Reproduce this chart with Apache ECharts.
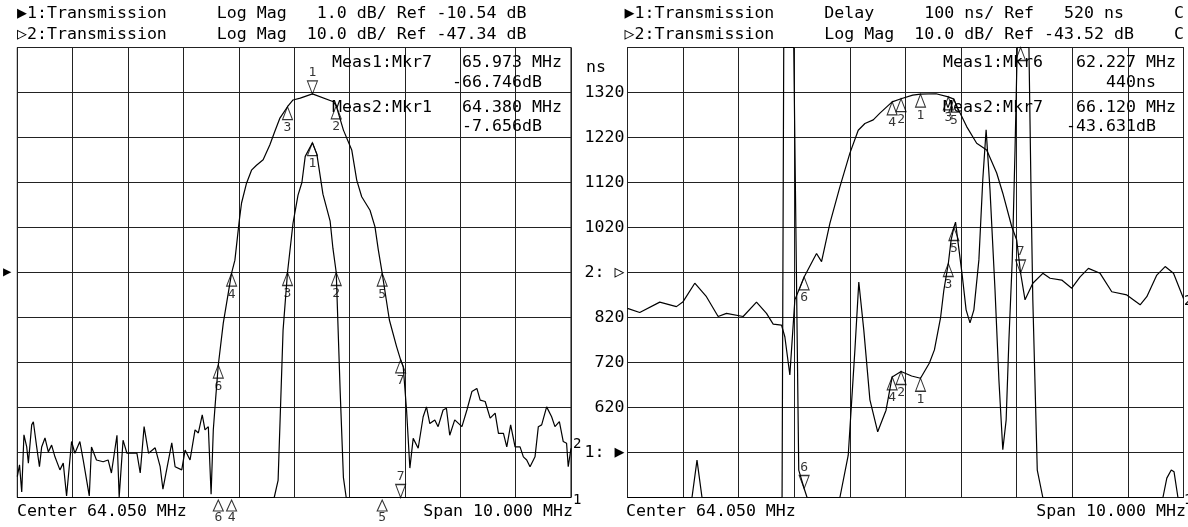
<!DOCTYPE html>
<html><head><meta charset="utf-8">
<script src="https://cdn.jsdelivr.net/npm/echarts/dist/echarts.min.js"></script>
<style>html,body{margin:0;padding:0;background:#fff;}#c{width:1188px;height:527px;}</style>
</head><body><div id="c"></div>
<script>
// ---------------- DATA ----------------
// Left screen: x = frequency (MHz)
const leftTrace1 = [[59.05,-15.54],[63.69,-15.54],[63.76,-15.16],[63.85,-11.82],[63.93,-10.54],[64.03,-9.44],[64.12,-8.82],[64.19,-8.54],[64.25,-7.96],[64.38,-7.656],[64.46,-7.91],[64.57,-8.80],[64.70,-9.40],[64.75,-10.00],[64.81,-10.54],[64.88,-13.14],[64.94,-15.10],[64.99,-15.54],[69.05,-15.54]];
const leftTrace2 = [[59.05,-92.7],[59.09,-90.1],[59.13,-96.1],[59.17,-83.4],[59.22,-86.1],[59.25,-89.7],[59.31,-81.2],[59.34,-80.5],[59.40,-86.1],[59.45,-90.5],[59.49,-86.1],[59.55,-84.1],[59.61,-87.2],[59.67,-85.7],[59.73,-88.3],[59.82,-91.2],[59.88,-89.7],[59.94,-97.0],[60.03,-84.9],[60.09,-87.5],[60.18,-84.9],[60.24,-89.0],[60.35,-97.0],[60.39,-86.1],[60.48,-89.0],[60.60,-89.4],[60.69,-89.0],[60.75,-91.9],[60.85,-83.5],[60.89,-97.2],[60.96,-84.6],[61.03,-87.5],[61.12,-87.5],[61.21,-87.5],[61.27,-91.9],[61.34,-81.6],[61.42,-87.5],[61.54,-86.3],[61.63,-90.5],[61.68,-95.5],[61.84,-85.2],[61.90,-90.5],[62.02,-91.2],[62.08,-86.8],[62.17,-89.0],[62.26,-82.3],[62.32,-83.0],[62.39,-79.0],[62.44,-82.3],[62.50,-81.6],[62.55,-96.6],[62.59,-82.3],[62.63,-75.7],[62.68,-67.9],[62.77,-58.6],[62.92,-47.5],[62.98,-44.6],[63.06,-35.7],[63.10,-31.9],[63.19,-27.5],[63.28,-24.6],[63.37,-23.5],[63.49,-22.3],[63.61,-19.0],[63.70,-16.0],[63.79,-13.1],[63.93,-10.5],[64.03,-9.0],[64.16,-8.6],[64.38,-7.656],[64.76,-9.4],[64.81,-10.3],[64.94,-15.7],[65.09,-20.1],[65.18,-26.8],[65.27,-30.5],[65.42,-33.5],[65.51,-37.2],[65.57,-42.3],[65.64,-47.5],[65.77,-57.9],[65.90,-63.8],[65.973,-66.746],[66.02,-68.3],[66.08,-77.9],[66.14,-90.8],[66.20,-84.2],[66.29,-86.4],[66.38,-79.4],[66.44,-77.2],[66.50,-80.9],[66.59,-80.1],[66.65,-81.6],[66.74,-77.9],[66.80,-77.5],[66.86,-83.5],[66.95,-80.1],[67.08,-81.6],[67.17,-77.9],[67.26,-73.8],[67.35,-73.1],[67.41,-75.7],[67.50,-76.0],[67.59,-79.7],[67.68,-78.6],[67.74,-83.1],[67.83,-83.1],[67.89,-86.1],[67.96,-81.2],[68.04,-86.1],[68.13,-86.1],[68.19,-88.3],[68.25,-89.0],[68.31,-90.5],[68.40,-88.3],[68.46,-81.6],[68.52,-81.2],[68.61,-77.2],[68.70,-79.4],[68.76,-81.6],[68.84,-80.5],[68.91,-84.9],[68.97,-85.3],[69.00,-90.5],[69.05,-86.4]];
// Right screen
const rightDelay = [[59.05,420],[60.21,420],[60.30,503],[60.39,420],[61.83,420],[61.86,1420],[62.04,1420],[62.13,481],[62.227,440],[62.28,420],[62.87,420],[63.02,514],[63.14,748],[63.21,899],[63.30,792],[63.41,637],[63.55,566],[63.70,614],[63.81,688],[63.97,700],[64.16,690],[64.32,685],[64.48,719],[64.57,748],[64.68,819],[64.74,881],[64.82,940],[64.87,992],[64.92,1020],[64.95,1032],[64.99,992],[65.07,914],[65.14,837],[65.21,808],[65.28,837],[65.37,948],[65.44,1126],[65.50,1237],[65.57,1103],[65.66,881],[65.73,681],[65.80,526],[65.86,592],[65.91,770],[65.97,948],[66.02,1192],[66.06,1420],[66.27,1420],[66.31,1081],[66.34,859],[66.42,481],[66.52,420],[68.68,420],[68.75,463],[68.83,481],[68.88,477],[68.95,420],[69.05,420]];
const rightLogMag = [[59.05,-51.5],[59.27,-52.4],[59.63,-50.1],[59.93,-51.1],[60.05,-50.0],[60.26,-45.9],[60.47,-48.9],[60.68,-53.3],[60.83,-52.6],[61.13,-53.3],[61.37,-50.1],[61.55,-52.6],[61.67,-55.0],[61.82,-55.2],[61.88,-57.8],[61.97,-66.3],[62.06,-49.6],[62.227,-44.5],[62.39,-40.7],[62.45,-39.3],[62.54,-41.1],[62.69,-32.6],[62.87,-24.5],[63.05,-17.0],[63.20,-11.9],[63.32,-10.4],[63.47,-9.6],[63.59,-8.1],[63.81,-5.6],[63.97,-4.9],[64.18,-4.1],[64.32,-3.9],[64.60,-3.8],[64.82,-4.5],[64.92,-5.0],[64.99,-7.0],[65.15,-11.1],[65.33,-14.8],[65.51,-16.3],[65.69,-21.4],[65.80,-25.9],[65.96,-33.3],[66.05,-36.3],[66.12,-43.631],[66.20,-49.6],[66.34,-45.9],[66.52,-43.7],[66.65,-44.8],[66.86,-45.2],[67.04,-47.0],[67.19,-44.5],[67.34,-42.6],[67.55,-43.7],[67.76,-47.8],[68.03,-48.5],[68.27,-50.7],[68.39,-48.9],[68.57,-44.1],[68.72,-42.2],[68.87,-43.7],[69.05,-49.3]];

// markers [freq, value, label]
const leftT1Markers = [[64.38,-7.656,'1'],[64.81,-10.54,'2'],[63.93,-10.54,'3']];
const leftT1Below = [[62.68,-15.54,'6'],[62.92,-15.54,'4'],[65.64,-15.54,'5']];
const leftT1Active = [[65.973,-15.54,'7']];
const leftT2Markers = [[64.81,-10.3,'2'],[63.93,-10.5,'3'],[62.92,-47.5,'4'],[65.64,-47.5,'5'],[62.68,-67.9,'6'],[65.973,-66.746,'7']];
const leftT2Active = [[64.38,-7.656,'1']];
const rightT1Markers = [[63.81,688,'4'],[63.97,700,'2'],[64.32,685,'1'],[64.82,940,'3'],[64.92,1020,'5'],[66.12,1420,'']];
const rightT1Active = [[62.227,440,'6']];
const rightT2Markers = [[63.81,-5.6,'4'],[63.97,-4.9,'2'],[64.32,-3.9,'1'],[64.82,-4.5,'3'],[64.92,-5.0,'5'],[62.227,-44.5,'6']];
const rightT2Active = [[66.12,-43.631,'7']];

// axis settings
const freqStart = 59.05, freqStop = 69.05, freqDiv = 1;
const leftRef1 = -10.54, leftScale1 = 1.0;
const leftRef2 = -47.34, leftScale2 = 10.0;
const rightRef1 = 520, rightScale1 = 100;
const rightRef2 = -43.52, rightScale2 = 10.0;

// texts
const headerLeft = ['1:Transmission     Log Mag   1.0 dB/ Ref -10.54 dB', '2:Transmission     Log Mag  10.0 dB/ Ref -47.34 dB'];
const headerRight = ['1:Transmission     Delay     100 ns/ Ref   520 ns     C', '2:Transmission     Log Mag  10.0 dB/ Ref -43.52 dB    C'];
const readLeft = [['Meas1:Mkr7','65.973 MHz','-66.746dB'],['Meas2:Mkr1','64.380 MHz','-7.656dB']];
const readRight = [['Meas1:Mkr6','62.227 MHz','440ns'],['Meas2:Mkr7','66.120 MHz','-43.631dB']];
const footer = ['Center 64.050 MHz','Span 10.000 MHz'];

// ---------------- CHART ----------------
const FONT = '"DejaVu Sans Mono", "Liberation Mono", monospace';
const FS = 16.6;
const chart = echarts.init(document.getElementById('c'), null, {renderer:'canvas'});

function lineSeries(data, xi, yi){
  return {type:'line', xAxisIndex:xi, yAxisIndex:yi, data:data, showSymbol:false, symbol:'none',
    lineStyle:{color:'#000', width:1.2}, animation:false, silent:true, z:3};
}
const UP = 'path://M5,0L10,13L0,13Z';
const DOWN = 'path://M0,0L10,0L5,13Z';
function markSeries(pts, xi, yi, dir, extraOffset, h){
  const off = extraOffset || 0;
  const hh = h || 13;
  return {type:'scatter', xAxisIndex:xi, yAxisIndex:yi, clip:false, animation:false, silent:true, z:5,
    data: pts.map(p=>({value:[p[0],p[1]], name:p[2]})),
    symbol: dir==='up'?UP:DOWN, symbolSize:[10,hh], symbolOffset:[0, dir==='up'? hh/2+off : -hh/2-off],
    itemStyle:{color:'rgba(255,255,255,0)', borderColor:'#000', borderWidth:1.1},
    label:{show:true, formatter:p=>p.name, position: dir==='up'?'bottom':'top', distance:off?0:1,
      fontFamily:FONT, fontSize:13, color:'#000'}};
}
function axisX(gi){
  return {gridIndex:gi, type:'value', min:freqStart, max:freqStop, interval:freqDiv,
    axisLabel:{show:false}, axisTick:{show:false}, axisLine:{show:false},
    splitLine:{show:true, lineStyle:{color:'#222', width:1}}};
}
function axisY(gi, ref, scale, showSplit, labels){
  return {gridIndex:gi, type:'value', min:ref-5*scale, max:ref+5*scale, interval:scale,
    axisTick:{show:false}, axisLine:{show:false},
    axisLabel: labels ? {show:true, margin:3, fontFamily:FONT, fontSize:FS, color:'#000', formatter:labels} : {show:false},
    splitLine:{show:showSplit, lineStyle:{color:'#222', width:1}}};
}
const rightLabels = v => {
  const r = Math.round(v);
  if (r === rightRef1 + 4*rightScale1) return '2: \u25B7';
  if (r === rightRef1) return '1: \u25B6';
  if (r === rightRef1 - rightScale1 || r === rightRef1 + 9*rightScale1) return '';
  return String(r);
};

function txt(text, x, y, align, size){
  return {type:'text', x:x, y:y, z:100, silent:true,
    style:{text:text, font:(size||FS)+'px '+FONT, fill:'#000', align:align||'left', verticalAlign:'middle'}};
}
const graphics = [
  txt('\u25B6', 17, 14), txt(headerLeft[0], 27, 14),
  txt('\u25B7', 17, 35), txt(headerLeft[1], 27, 35),
  txt('\u25B6', 624.5, 14), txt(headerRight[0], 634.5, 14),
  txt('\u25B7', 624.5, 35), txt(headerRight[1], 634.5, 35),
  txt(readLeft[0][0], 332, 63), txt(readLeft[0][1], 462, 63), txt(readLeft[0][2], 452, 83),
  txt(readLeft[1][0], 332, 108), txt(readLeft[1][1], 462, 108), txt(readLeft[1][2], 462, 127),
  txt(readRight[0][0], 943, 63), txt(readRight[0][1], 1076, 63), txt(readRight[0][2], 1106, 83),
  txt(readRight[1][0], 943, 108), txt(readRight[1][1], 1076, 108), txt(readRight[1][2], 1066, 127),
  txt(footer[0], 17, 512), txt(footer[1], 573, 512, 'right'),
  txt(footer[0], 626, 512), txt(footer[1], 1186, 512, 'right'),
  txt('\u25B6', 3, 272, 'left', 14),
  txt('ns', 586, 68),
  txt('2', 573, 444, 'left', 14), txt('1', 573, 500, 'left', 14),
  txt('2', 1184, 301, 'left', 14), txt('1', 1184, 500, 'left', 14)
];

const option = {
  backgroundColor:'#fff',
  animation:false,
  grid:[
    {left:17.3, top:47.5, width:553.7, height:450, show:true, borderColor:'#000', borderWidth:1, containLabel:false, outerBoundsMode:'none'},
    {left:627.5, top:47.5, width:556, height:450, show:true, borderColor:'#000', borderWidth:1, containLabel:false, outerBoundsMode:'none'}
  ],
  xAxis:[axisX(0), axisX(1)],
  yAxis:[
    axisY(0, leftRef1, leftScale1, true, null),
    axisY(0, leftRef2, leftScale2, false, null),
    axisY(1, rightRef1 + 4*rightScale1, rightScale1, true, rightLabels),
    axisY(1, rightRef2, rightScale2, false, null)
  ],
  series:[
    lineSeries(leftTrace1, 0, 0),
    lineSeries(leftTrace2, 0, 1),
    lineSeries(rightDelay, 1, 2),
    lineSeries(rightLogMag, 1, 3),
    markSeries(leftT1Markers, 0, 0, 'up'),
    markSeries(leftT1Below, 0, 0, 'up', 2.5, 11),
    markSeries(leftT1Active, 0, 0, 'down'),
    markSeries(leftT2Markers, 0, 1, 'up'),
    markSeries(leftT2Active, 0, 1, 'down'),
    markSeries(rightT1Markers, 1, 2, 'up'),
    markSeries(rightT1Active, 1, 2, 'down'),
    markSeries(rightT2Markers, 1, 3, 'up'),
    markSeries(rightT2Active, 1, 3, 'down')
  ],
  graphic: graphics
};
chart.setOption(option);
</script>
</body></html>
